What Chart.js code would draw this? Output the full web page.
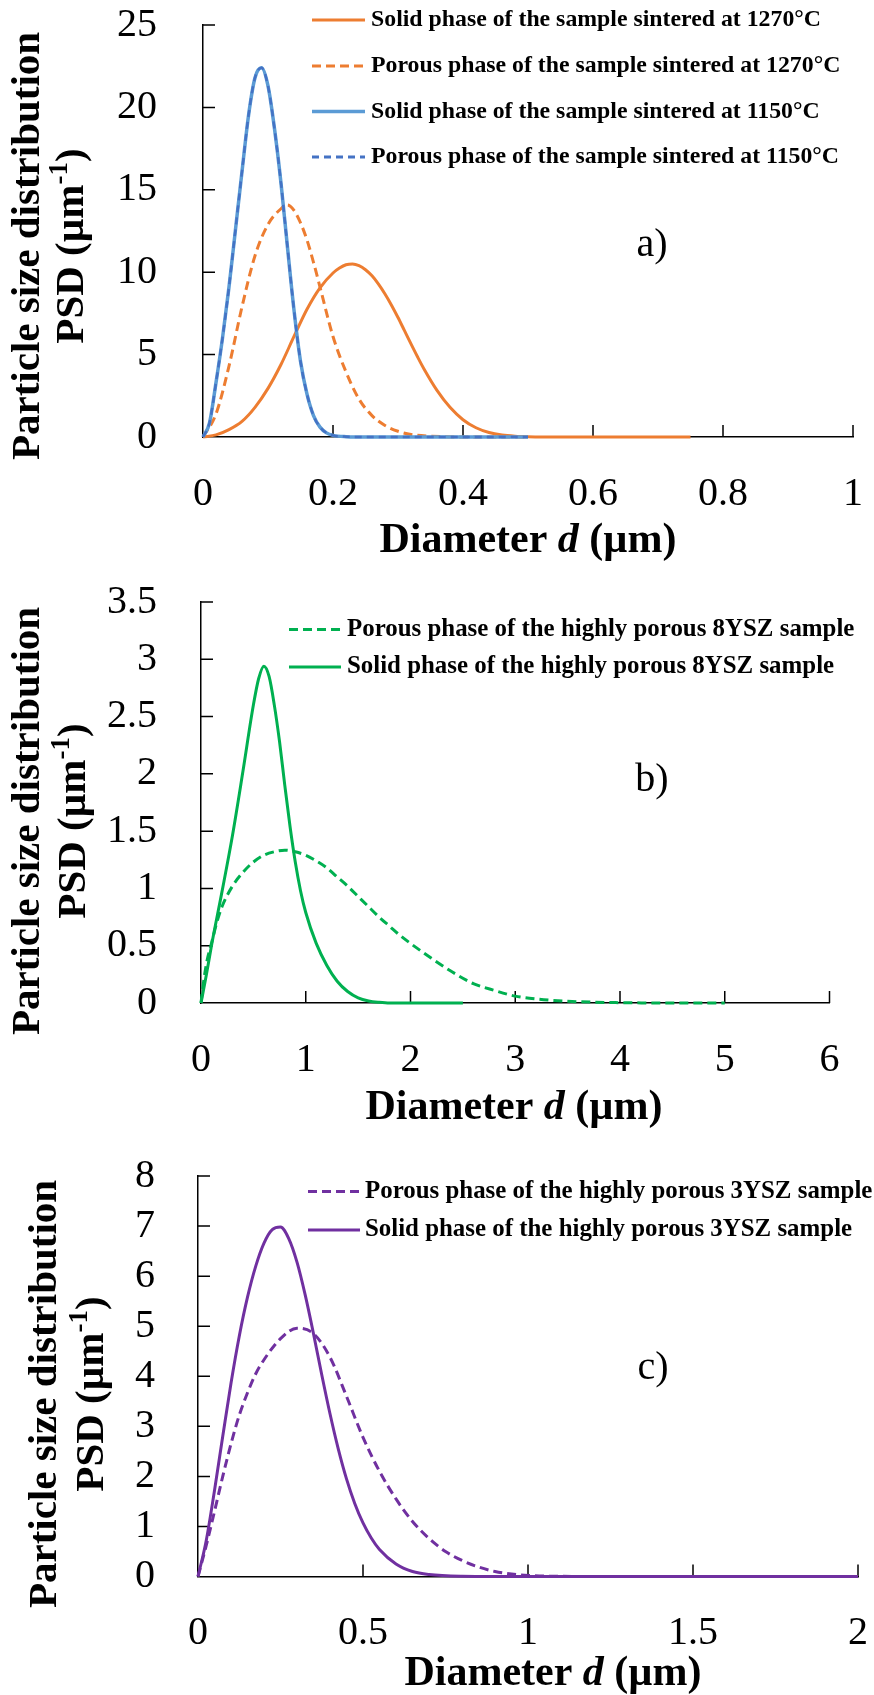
<!DOCTYPE html>
<html>
<head>
<meta charset="utf-8">
<script src="https://cdn.jsdelivr.net/npm/chart.js@4.4.1/dist/chart.umd.min.js"></script>
<style>
  html, body { margin: 0; padding: 0; background: #fff; }
  #wrap { position: relative; width: 874px; height: 1695px; }
  canvas { position: absolute; left: 0; }
</style>
</head>
<body>
<div id="wrap">
  <canvas id="chartA" width="874" height="570" style="top:0px"></canvas>
  <canvas id="chartB" width="874" height="570" style="top:570px"></canvas>
  <canvas id="chartC" width="874" height="555" style="top:1140px"></canvas>
</div>
<script>
// --- DATA ---

// a) samples sintered at 1270 and 1150 °C
const dSolid1270 = [0, 0.02, 0.04, 0.06, 0.08, 0.10, 0.12, 0.14, 0.16, 0.18, 0.20, 0.21, 0.22, 0.23, 0.24, 0.25, 0.26, 0.27, 0.28, 0.29, 0.30, 0.31, 0.32, 0.33, 0.34, 0.36, 0.38, 0.40, 0.42, 0.44, 0.46, 0.48, 0.50, 0.55, 0.60, 0.75];
const vSolid1270 = [0, 0.13, 0.45, 0.95, 1.8, 2.95, 4.4, 6.1, 7.75, 9.05, 9.95, 10.25, 10.45, 10.5, 10.4, 10.15, 9.78, 9.28, 8.68, 8.0, 7.25, 6.45, 5.65, 4.87, 4.13, 2.83, 1.8, 1.05, 0.56, 0.27, 0.12, 0.05, 0.02, 0, 0, 0];

const dPorous1270 = [0, 0.02, 0.04, 0.06, 0.08, 0.10, 0.12, 0.13, 0.14, 0.15, 0.16, 0.17, 0.18, 0.20, 0.22, 0.24, 0.26, 0.28, 0.30, 0.32, 0.35, 0.40, 0.50];
const vPorous1270 = [0, 1.4, 4.3, 7.9, 11.0, 12.9, 13.85, 14.08, 13.75, 13.0, 11.95, 10.6, 9.1, 6.1, 3.95, 2.3, 1.3, 0.7, 0.35, 0.15, 0.05, 0, 0];

const d1150 = [0, 0.01, 0.02, 0.03, 0.04, 0.05, 0.06, 0.07, 0.08, 0.09, 0.10, 0.11, 0.12, 0.13, 0.14, 0.15, 0.16, 0.17, 0.18, 0.19, 0.20, 0.22, 0.25, 0.30, 0.40, 0.50];
const vSolid1150 = [0, 0.85, 3.3, 6.0, 9.1, 12.6, 16.1, 19.5, 21.8, 22.4, 21.3, 18.7, 15.4, 11.5, 7.7, 4.6, 2.6, 1.3, 0.6, 0.25, 0.1, 0.02, 0, 0, 0, 0];
const vPorous1150 = [0, 0.85, 3.3, 6.0, 9.1, 12.6, 16.1, 19.5, 21.8, 22.4, 21.3, 18.7, 15.4, 11.5, 7.7, 4.6, 2.6, 1.3, 0.6, 0.25, 0.1, 0.02, 0, 0, 0, 0];

// b) highly porous 8YSZ sample
const dPorous8 = [0, 0.03, 0.06, 0.1, 0.15, 0.2, 0.3, 0.4, 0.5, 0.6, 0.7, 0.8, 0.9, 1.0, 1.1, 1.2, 1.3, 1.4, 1.5, 1.6, 1.7, 1.8, 1.9, 2.0, 2.2, 2.4, 2.6, 2.8, 3.0, 3.2, 3.5, 4.0, 4.5, 5.0];
const vPorous8 = [0, 0.22, 0.38, 0.52, 0.7, 0.84, 1.02, 1.14, 1.23, 1.29, 1.32, 1.334, 1.32, 1.29, 1.24, 1.18, 1.1, 1.02, 0.93, 0.84, 0.75, 0.67, 0.59, 0.52, 0.39, 0.27, 0.17, 0.11, 0.06, 0.035, 0.015, 0.003, 0, 0];

const dSolid8 = [0, 0.05, 0.1, 0.2, 0.3, 0.4, 0.5, 0.55, 0.6, 0.65, 0.7, 0.75, 0.8, 0.85, 0.9, 0.95, 1.0, 1.1, 1.2, 1.3, 1.4, 1.5, 1.6, 1.7, 1.8, 2.0, 2.5];
const vSolid8 = [0, 0.24, 0.5, 0.97, 1.46, 2.02, 2.6, 2.83, 2.94, 2.85, 2.6, 2.28, 1.9, 1.54, 1.23, 0.98, 0.79, 0.52, 0.33, 0.19, 0.1, 0.045, 0.018, 0.006, 0, 0, 0];

// c) highly porous 3YSZ sample
const dPorous3 = [0, 0.025, 0.05, 0.075, 0.1, 0.125, 0.15, 0.175, 0.2, 0.25, 0.3, 0.35, 0.4, 0.45, 0.5, 0.55, 0.6, 0.65, 0.7, 0.75, 0.8, 0.85, 0.9, 0.95, 1.0, 1.1, 1.2, 1.5, 2.0];
const vPorous3 = [0, 0.62, 1.3, 2.0, 2.65, 3.22, 3.67, 4.05, 4.33, 4.75, 4.96, 4.85, 4.38, 3.6, 2.78, 2.1, 1.55, 1.1, 0.76, 0.5, 0.32, 0.19, 0.1, 0.05, 0.02, 0.004, 0, 0, 0];

const dSolid3 = [0, 0.025, 0.05, 0.075, 0.1, 0.125, 0.15, 0.175, 0.2, 0.225, 0.25, 0.275, 0.3, 0.325, 0.35, 0.375, 0.4, 0.425, 0.45, 0.475, 0.5, 0.525, 0.55, 0.6, 0.65, 0.7, 0.8, 0.9, 1.0, 1.5, 2.0];
const vSolid3 = [0, 0.72, 1.72, 2.8, 3.86, 4.8, 5.58, 6.2, 6.66, 6.93, 6.98, 6.75, 6.28, 5.62, 4.85, 4.03, 3.25, 2.55, 1.95, 1.46, 1.07, 0.77, 0.54, 0.25, 0.1, 0.04, 0.005, 0, 0, 0, 0];

// axis ranges / tick steps
const xMaxA = 1, xStepA = 0.2, yMaxA = 25, yStepA = 5;
const xMaxB = 6, xStepB = 1, yMaxB = 3.5, yStepB = 0.5;
const xMaxC = 2, xStepC = 0.5, yMaxC = 8, yStepC = 1;

// --- STYLE ---
const SERIF = '"Liberation Serif", "Times New Roman", Times, serif';
const ORANGE = '#ED7D31';
const LIGHT_BLUE = '#5B9BD5';
const DARK_BLUE = '#4472C4';
const GREEN = '#00B050';
const PURPLE = '#7030A0';
const DASH = [9, 5];

const toPoints = (xs, ys) => xs.map((x, i) => ({ x: x, y: ys[i] }));
const fmt = (v) => String(Math.round(v * 100) / 100);

// draws a row of text pieces (different fonts) centred on cx
function drawRuns(ctx, runs, cx, cy) {
    let total = 0;
    runs.forEach(r => {
        ctx.font = r.font;
        r.w = ctx.measureText(r.text).width;
        total += r.w;
    });
    let x = cx - total / 2;
    runs.forEach(r => {
        ctx.font = r.font;
        ctx.fillText(r.text, x, cy + (r.dy || 0));
        x += r.w;
    });
}

// tick marks pointing into the plot area
const innerTicks = {
    id: 'innerTicks',
    beforeDatasetsDraw(chart) {
        const { ctx, chartArea, scales } = chart;
        const x = scales.x, y = scales.y;
        ctx.save();
        ctx.strokeStyle = '#000';
        ctx.lineWidth = 1.5;
        ctx.beginPath();
        x.ticks.forEach(t => {
            if (t.value === x.min) return;
            const px = x.getPixelForValue(t.value);
            ctx.moveTo(px, chartArea.bottom);
            ctx.lineTo(px, chartArea.bottom - 12);
        });
        y.ticks.forEach(t => {
            if (t.value === y.min) return;
            const py = y.getPixelForValue(t.value);
            ctx.moveTo(chartArea.left, py);
            ctx.lineTo(chartArea.left + 12, py);
        });
        ctx.stroke();
        ctx.restore();
    }
};

// axis titles, legend and panel letter
const panelText = {
    id: 'panelText',
    afterDraw(chart, args, o) {
        const ctx = chart.ctx;
        ctx.save();
        ctx.fillStyle = '#000';
        ctx.textAlign = 'left';

        // y title, two rotated lines
        const bold = `bold 41px ${SERIF}`;
        ctx.textBaseline = 'middle';
        ctx.save();
        ctx.translate(o.yTitle.x1, o.yTitle.y);
        ctx.rotate(-Math.PI / 2);
        drawRuns(ctx, [{ text: 'Particle size distribution', font: bold }], 0, 0);
        ctx.restore();
        ctx.save();
        ctx.translate(o.yTitle.x2, o.yTitle.y);
        ctx.rotate(-Math.PI / 2);
        drawRuns(ctx, [
            { text: 'PSD (\u00b5m', font: bold },
            { text: '-1', font: `bold 27px ${SERIF}`, dy: -12 },
            { text: ')', font: bold }
        ], 0, 0);
        ctx.restore();

        // x title
        ctx.textBaseline = 'alphabetic';
        drawRuns(ctx, [
            { text: 'Diameter ', font: `bold 42px ${SERIF}` },
            { text: 'd', font: `italic bold 42px ${SERIF}` },
            { text: ' (\u00b5m)', font: `bold 42px ${SERIF}` }
        ], o.xTitle.x, o.xTitle.y);

        // legend
        ctx.textBaseline = 'middle';
        o.legend.items.forEach((it, i) => {
            const y = o.legend.rows[i];
            ctx.save();
            ctx.strokeStyle = it.color;
            ctx.lineWidth = it.width || 3;
            ctx.setLineDash(it.dash || []);
            ctx.beginPath();
            ctx.moveTo(o.legend.x1, y);
            ctx.lineTo(o.legend.x2, y);
            ctx.stroke();
            ctx.restore();
            ctx.font = `bold ${o.legend.size}px ${SERIF}`;
            ctx.fillText(it.text, o.legend.tx, y);
        });

        // panel letter
        ctx.font = `40px ${SERIF}`;
        ctx.textAlign = 'center';
        ctx.fillText(o.label.text, o.label.x, o.label.y);
        ctx.restore();
    }
};

function lineSet(label, pts, color, width, dash, order) {
    return {
        label: label,
        data: pts,
        borderColor: color,
        backgroundColor: color,
        borderWidth: width,
        borderDash: dash || [],
        pointRadius: 0,
        fill: false,
        cubicInterpolationMode: 'monotone',
        clip: 8,
        order: order
    };
}

function makeChart(id, cfg) {
    const tickFont = { family: SERIF, size: 40, lineHeight: 1 };
    return new Chart(document.getElementById(id), {
        type: 'line',
        data: { datasets: cfg.datasets },
        options: {
            responsive: false,
            animation: false,
            events: [],
            layout: { padding: cfg.padding },
            scales: {
                x: {
                    type: 'linear',
                    min: 0, max: cfg.xMax,
                    ticks: { stepSize: cfg.xStep, padding: 29, color: '#000', font: tickFont, maxRotation: 0, autoSkip: false, callback: fmt },
                    grid: { display: false },
                    border: { display: true, color: '#000', width: 1.5 },
                    afterFit: s => { s.height = cfg.xHeight; s.paddingLeft = 0; s.paddingRight = 0; }
                },
                y: {
                    type: 'linear',
                    min: 0, max: cfg.yMax,
                    ticks: { stepSize: cfg.yStep, padding: cfg.yPad, color: '#000', font: tickFont, callback: fmt },
                    grid: { display: false },
                    border: { display: true, color: '#000', width: 1.5 },
                    afterFit: s => { s.width = cfg.yWidth; s.paddingTop = 0; s.paddingBottom = 0; }
                }
            },
            plugins: {
                legend: { display: false },
                tooltip: { enabled: false },
                panelText: cfg.text
            }
        },
        plugins: [innerTicks, panelText]
    });
}

document.addEventListener('DOMContentLoaded', () => {
    const leg1270s = 'Solid phase of the sample sintered at 1270\u00b0C';
    const leg1270p = 'Porous phase of the sample sintered at 1270\u00b0C';
    const leg1150s = 'Solid phase of the sample sintered at 1150\u00b0C';
    const leg1150p = 'Porous phase of the sample sintered at 1150\u00b0C';

    // --- PANEL A ---
    makeChart('chartA', {
        datasets: [
            lineSet(leg1270s, toPoints(dSolid1270, vSolid1270), ORANGE, 3, null, 4),
            lineSet(leg1270p, toPoints(dPorous1270, vPorous1270), ORANGE, 3, DASH, 3),
            lineSet(leg1150s, toPoints(d1150, vSolid1150), LIGHT_BLUE, 3.5, null, 2),
            lineSet(leg1150p, toPoints(d1150, vPorous1150), DARK_BLUE, 2.5, [7, 5], 1)
        ],
        xMax: xMaxA, xStep: xStepA, yMax: yMaxA, yStep: yStepA,
        padding: { left: 0, top: 25, right: 21, bottom: 0 },
        xHeight: 133, yWidth: 203, yPad: 38,
        text: {
            yTitle: { x1: 28, x2: 72, y: 246 },
            xTitle: { x: 528, y: 552 },
            legend: {
                x1: 312, x2: 365, tx: 371, size: 23.8, rows: [20, 66, 111.5, 157],
                items: [
                    { text: leg1270s, color: ORANGE },
                    { text: leg1270p, color: ORANGE, dash: DASH },
                    { text: leg1150s, color: LIGHT_BLUE, width: 3.5 },
                    { text: leg1150p, color: DARK_BLUE, dash: [7, 5] }
                ]
            },
            label: { text: 'a)', x: 652, y: 245 }
        }
    });

    // --- PANEL B ---
    const leg8p = 'Porous phase of the highly porous 8YSZ sample';
    const leg8s = 'Solid phase of the highly porous 8YSZ sample';
    makeChart('chartB', {
        datasets: [
            lineSet(leg8p, toPoints(dPorous8, vPorous8), GREEN, 3, DASH, 2),
            lineSet(leg8s, toPoints(dSolid8, vSolid8), GREEN, 3, null, 1)
        ],
        xMax: xMaxB, xStep: xStepB, yMax: yMaxB, yStep: yStepB,
        padding: { left: 0, top: 32, right: 44.5, bottom: 0 },
        xHeight: 137, yWidth: 201, yPad: 36,
        text: {
            yTitle: { x1: 28, x2: 74, y: 251 },
            xTitle: { x: 514, y: 549 },
            legend: {
                x1: 289, x2: 341, tx: 347, size: 24.9, rows: [59.6, 97],
                items: [
                    { text: leg8p, color: GREEN, dash: DASH },
                    { text: leg8s, color: GREEN }
                ]
            },
            label: { text: 'b)', x: 652, y: 210 }
        }
    });

    // --- PANEL C ---
    const leg3p = 'Porous phase of the highly porous 3YSZ sample';
    const leg3s = 'Solid phase of the highly porous 3YSZ sample';
    makeChart('chartC', {
        datasets: [
            lineSet(leg3p, toPoints(dPorous3, vPorous3), PURPLE, 3, DASH, 2),
            lineSet(leg3s, toPoints(dSolid3, vSolid3), PURPLE, 3, null, 1)
        ],
        xMax: xMaxC, xStep: xStepC, yMax: yMaxC, yStep: yStepC,
        padding: { left: 0, top: 36, right: 16, bottom: 0 },
        xHeight: 118.5, yWidth: 198, yPad: 35,
        text: {
            yTitle: { x1: 45, x2: 92, y: 254 },
            xTitle: { x: 553, y: 545 },
            legend: {
                x1: 308, x2: 360, tx: 365, size: 24.9, rows: [51.5, 90],
                items: [
                    { text: leg3p, color: PURPLE, dash: DASH },
                    { text: leg3s, color: PURPLE }
                ]
            },
            label: { text: 'c)', x: 653, y: 228 }
        }
    });
});
</script>
</body>
</html>
